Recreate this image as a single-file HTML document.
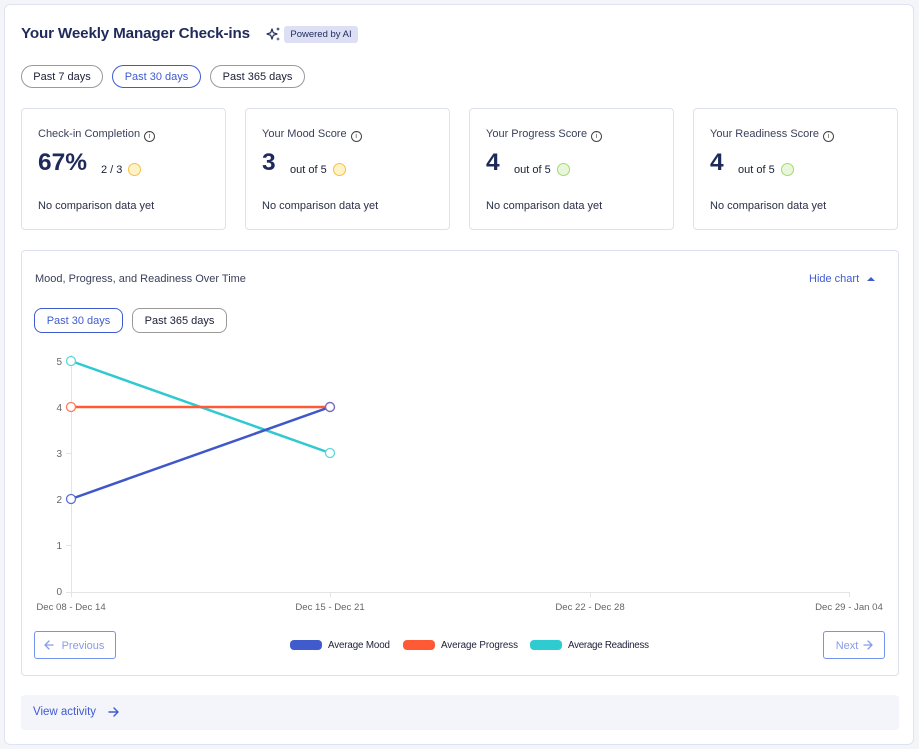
<!DOCTYPE html>
<html>
<head>
<meta charset="utf-8">
<style>
  html,body{margin:0;padding:0;}
  body{width:919px;height:749px;background:#f4f5f9;position:relative;overflow:hidden;font-family:"Liberation Sans",sans-serif;}
  .abs{position:absolute;}
  .outer{left:4px;top:4px;width:910px;height:741px;background:#fff;border:1px solid #dfe2f2;border-radius:6px;box-sizing:border-box;}
  .title{left:21px;top:25px;font-size:15.2px;font-weight:bold;color:#1f2a5a;white-space:nowrap;letter-spacing:-0.15px;}
  .badge{left:284px;top:26px;width:74px;height:17px;background:#dde0f5;border-radius:3px;font-size:9.5px;color:#1f2a5a;text-align:center;line-height:18px;}
  .pill{height:23px;border:1px solid #9a9a9a;border-radius:12px;box-sizing:border-box;font-size:11px;color:#1a1f36;text-align:center;line-height:23px;white-space:nowrap;}
  .pill.active{border-color:#3f5bd0;color:#3f5bd0;}
  .card{top:108px;width:205px;height:122px;border:1px solid #dde0f0;border-radius:4px;box-sizing:border-box;}
  .lbl{position:absolute;left:16px;top:19px;font-size:11px;color:#3a3f5a;white-space:nowrap;}
  .info{display:inline-block;width:9px;height:9px;border:1px solid #444;border-radius:50%;vertical-align:-1px;margin-left:4px;font-size:7px;line-height:9px;text-align:center;color:#444;}
  .big{position:absolute;left:16px;top:40px;font-size:24.5px;font-weight:bold;color:#1f2a5a;}
  .sub{position:absolute;top:55px;font-size:11px;color:#1a1f36;white-space:nowrap;}
  .dot{position:absolute;top:54px;width:13px;height:13px;border-radius:50%;box-sizing:border-box;}
  .dot.y{background:#fff3c6;border:1.5px solid #f5c04a;}
  .dot.g{background:#e9f6dc;border:1.5px solid #a8d874;}
  .nc{position:absolute;left:16px;top:91px;font-size:11px;color:#2a2f45;white-space:nowrap;}
  .chartcard{left:21px;top:250px;width:878px;height:426px;border:1px solid #dde0f0;border-radius:4px;box-sizing:border-box;}
  .btn{height:28px;border:1px solid #7393ee;border-radius:3px;box-sizing:border-box;font-size:11px;color:#8a9be6;line-height:28px;text-align:center;white-space:nowrap;}
  .va{left:21px;top:695px;width:878px;height:35px;background:#f4f5fb;border-radius:4px;}
</style>
</head>
<body>
<div class="abs outer"></div>

<div class="abs title">Your Weekly Manager Check-ins</div>
<svg class="abs" style="left:266px;top:26px" width="16" height="16" viewBox="0 0 16 16">
  <path d="M6 3 L7.3 6.7 L11 8 L7.3 9.3 L6 13 L4.7 9.3 L1 8 L4.7 6.7 Z" fill="none" stroke="#1f2a5a" stroke-width="1.2" stroke-linejoin="round"/>
  <path d="M12 1 L12.6 2.4 L14 3 L12.6 3.6 L12 5 L11.4 3.6 L10 3 L11.4 2.4 Z" fill="#1f2a5a"/>
  <path d="M12 11 L12.5 12.5 L14 13 L12.5 13.5 L12 15 L11.5 13.5 L10 13 L11.5 12.5 Z" fill="#1f2a5a"/>
</svg>
<div class="abs badge">Powered by AI</div>

<div class="abs pill" style="left:21px;top:65px;width:82px;">Past 7 days</div>
<div class="abs pill active" style="left:112px;top:65px;width:89px;">Past 30 days</div>
<div class="abs pill" style="left:210px;top:65px;width:95px;">Past 365 days</div>

<div class="abs card" style="left:21px;">
  <div class="lbl">Check-in Completion<span class="info">i</span></div>
  <div class="big">67%</div>
  <div class="sub" style="left:79px;">2 / 3</div>
  <div class="dot y" style="left:106px;"></div>
  <div class="nc">No comparison data yet</div>
</div>
<div class="abs card" style="left:245px;">
  <div class="lbl">Your Mood Score<span class="info">i</span></div>
  <div class="big">3</div>
  <div class="sub" style="left:44px;">out of 5</div>
  <div class="dot y" style="left:87px;"></div>
  <div class="nc">No comparison data yet</div>
</div>
<div class="abs card" style="left:469px;">
  <div class="lbl">Your Progress Score<span class="info">i</span></div>
  <div class="big">4</div>
  <div class="sub" style="left:44px;">out of 5</div>
  <div class="dot g" style="left:87px;"></div>
  <div class="nc">No comparison data yet</div>
</div>
<div class="abs card" style="left:693px;">
  <div class="lbl">Your Readiness Score<span class="info">i</span></div>
  <div class="big">4</div>
  <div class="sub" style="left:44px;">out of 5</div>
  <div class="dot g" style="left:87px;"></div>
  <div class="nc">No comparison data yet</div>
</div>

<div class="abs chartcard"></div>
<div class="abs" style="left:35px;top:273px;font-size:11px;color:#3a3f5a;white-space:nowrap;">Mood, Progress, and Readiness Over Time</div>
<div class="abs" style="left:809px;top:273px;font-size:11px;color:#3f5bd0;white-space:nowrap;">Hide chart</div>
<svg class="abs" style="left:866px;top:275px" width="10" height="8" viewBox="0 0 10 8"><path d="M1 6 L5 2 L9 6 Z" fill="#3f5bd0"/></svg>

<div class="abs pill active" style="left:34px;top:308px;width:89px;height:25px;line-height:25px;border-radius:8px;">Past 30 days</div>
<div class="abs pill" style="left:132px;top:308px;width:95px;height:25px;line-height:25px;border-radius:8px;">Past 365 days</div>

<svg class="abs" style="left:0;top:0" width="919" height="749" viewBox="0 0 919 749">
  <g stroke="#e4e4e4" stroke-width="1">
    <line x1="71.5" y1="355" x2="71.5" y2="597"/>
    <line x1="66" y1="592.5" x2="849" y2="592.5"/>
    <line x1="66" y1="361.5" x2="71" y2="361.5"/>
    <line x1="66" y1="407.5" x2="71" y2="407.5"/>
    <line x1="66" y1="453.5" x2="71" y2="453.5"/>
    <line x1="66" y1="499.5" x2="71" y2="499.5"/>
    <line x1="66" y1="545.5" x2="71" y2="545.5"/>
    <line x1="330.5" y1="592" x2="330.5" y2="597"/>
    <line x1="590.5" y1="592" x2="590.5" y2="597"/>
    <line x1="849.5" y1="592" x2="849.5" y2="597"/>
  </g>
  <g font-family="Liberation Sans, sans-serif" font-size="10" fill="#666" text-anchor="end">
    <text x="62" y="365">5</text>
    <text x="62" y="411">4</text>
    <text x="62" y="457">3</text>
    <text x="62" y="503">2</text>
    <text x="62" y="549">1</text>
    <text x="62" y="595">0</text>
  </g>
  <g font-family="Liberation Sans, sans-serif" font-size="9.6" fill="#666" text-anchor="middle">
    <text x="71" y="610">Dec 08 - Dec 14</text>
    <text x="330" y="610">Dec 15 - Dec 21</text>
    <text x="590" y="610">Dec 22 - Dec 28</text>
    <text x="849" y="610">Dec 29 - Jan 04</text>
  </g>
  <line x1="71" y1="361" x2="330" y2="453" stroke="#2ecad0" stroke-width="2.5"/>
  <line x1="71" y1="407" x2="330" y2="407" stroke="#ff5a36" stroke-width="2.5"/>
  <line x1="71" y1="499" x2="330" y2="407" stroke="#3f57c8" stroke-width="2.5"/>
  <circle cx="71" cy="361" r="4.5" fill="#fff" stroke="#5fd6db" stroke-width="1.3"/>
  <circle cx="330" cy="453" r="4.5" fill="#fff" stroke="#5fd6db" stroke-width="1.3"/>
  <circle cx="71" cy="407" r="4.5" fill="#fff" stroke="#ff7a5c" stroke-width="1.3"/>
  <circle cx="71" cy="499" r="4.5" fill="#fff" stroke="#5a6fd6" stroke-width="1.3"/>
  <circle cx="330" cy="407" r="4.5" fill="#fff" stroke="#7a6cb8" stroke-width="1.4"/>

  <rect x="290" y="640" width="32" height="10" rx="4" fill="#3f5bcc"/>
  <rect x="403" y="640" width="32" height="10" rx="4" fill="#ff5a36"/>
  <rect x="530" y="640" width="32" height="10" rx="4" fill="#2ecbd1"/>
  <g font-family="Liberation Sans, sans-serif" font-size="9.8" fill="#1a1f36">
    <text x="328" y="648" textLength="62">Average Mood</text>
    <text x="441" y="648" textLength="77">Average Progress</text>
    <text x="568" y="648" textLength="81">Average Readiness</text>
  </g>

  <g stroke="#8a9be6" stroke-width="1.3" fill="none" stroke-linecap="round" stroke-linejoin="round">
    <path d="M53 645 H45 M49 641 L45 645 L49 649"/>
    <path d="M864 645 H872 M868 641 L872 645 L868 649"/>
  </g>
</svg>

<div class="abs btn" style="left:34px;top:631px;width:82px;padding-left:16px;">Previous</div>
<div class="abs btn" style="left:823px;top:631px;width:62px;padding-right:14px;">Next</div>

<div class="abs va"></div>
<div class="abs" style="left:33px;top:706px;font-size:11.5px;color:#3f5bd0;white-space:nowrap;">View activity</div>
<svg class="abs" style="left:100px;top:700px" width="25" height="24" viewBox="100 700 25 24">
  <g stroke="#3f5bd0" stroke-width="1.4" fill="none" stroke-linecap="round" stroke-linejoin="round">
    <path d="M109 712 H118 M114 708 L118 712 L114 716"/>
  </g>
</svg>
</body>
</html>
